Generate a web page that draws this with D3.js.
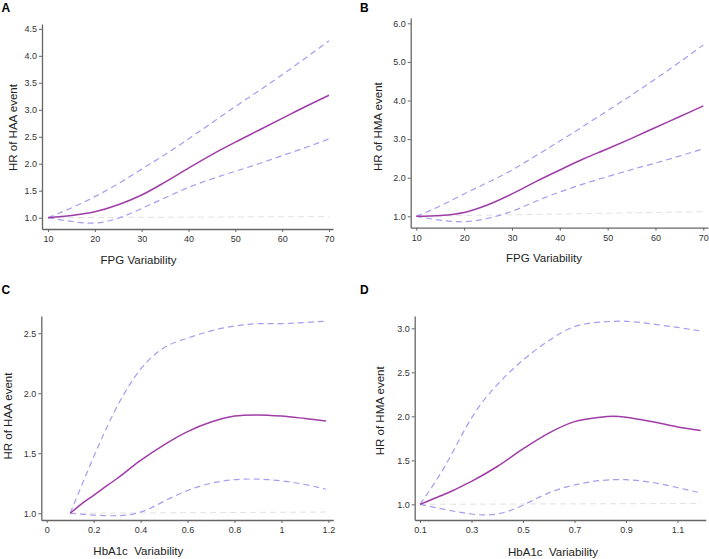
<!DOCTYPE html>
<html><head><meta charset="utf-8">
<script src="https://cdn.jsdelivr.net/npm/d3@7"></script>
<style>body{margin:0;background:#fff}svg{display:block}</style>
</head><body>
<script>
// ---------- DATA ----------
// Panel A: FPG variability vs HR of HAA event
const xA = [10,15,20,25,30,35,40,45,50,55,60,65,70];
const mainA  = [1.00,1.04,1.11,1.24,1.42,1.66,1.92,2.17,2.40,2.62,2.84,3.06,3.27];
const upperA = [1.00,1.18,1.39,1.63,1.90,2.17,2.46,2.76,3.06,3.35,3.65,3.96,4.28];
const lowerA = [1.00,0.93,0.90,0.99,1.17,1.37,1.56,1.72,1.86,2.00,2.15,2.30,2.46];
const refXA = [10,70], refYA = [1.00,1.02];
const yTicksA = [1.0,1.5,2.0,2.5,3.0,3.5,4.0,4.5];
const xTicksA = [10,20,30,40,50,60,70];

// Panel B: FPG variability vs HR of HMA event
const xB = [10,15,20,25,30,35,40,45,50,55,60,65,70];
const mainB  = [1.00,1.02,1.10,1.30,1.58,1.90,2.20,2.49,2.75,3.02,3.30,3.58,3.86];
const upperB = [1.00,1.27,1.58,1.88,2.20,2.57,2.95,3.34,3.74,4.14,4.56,4.99,5.44];
const lowerB = [1.00,0.90,0.86,0.95,1.13,1.39,1.63,1.84,2.03,2.21,2.38,2.56,2.75];
const refXB = [10,70], refYB = [1.00,1.12];
const yTicksB = [1.0,2.0,3.0,4.0,5.0,6.0];
const xTicksB = [10,20,30,40,50,60,70];

// Panel C: HbA1c variability vs HR of HAA event
const xMainC = [0.1,0.15,0.2,0.235,0.3,0.4,0.5,0.6,0.7,0.8,0.9,1.0,1.1,1.19];
const mainC  = [1.00,1.08,1.15,1.20,1.29,1.44,1.57,1.68,1.76,1.81,1.82,1.81,1.79,1.77];
const xBandC = [0.1,0.2,0.3,0.4,0.5,0.6,0.7,0.8,0.9,1.0,1.1,1.19];
const upperC = [1.00,1.47,1.89,2.20,2.38,2.46,2.52,2.56,2.58,2.58,2.59,2.60];
const lowerC = [1.00,0.985,0.98,1.01,1.10,1.19,1.25,1.28,1.285,1.27,1.24,1.20];
const refXC = [0.1,1.19], refYC = [1.00,1.01];
const yTicksC = [1.0,1.5,2.0,2.5];
const xTicksC = [0,0.2,0.4,0.6,0.8,1,1.2];

// Panel D: HbA1c variability vs HR of HMA event
const xMainD = [0.1,0.15,0.2,0.23,0.3,0.4,0.5,0.6,0.7,0.8,0.85,0.9,1.0,1.1,1.19];
const mainD  = [1.00,1.06,1.12,1.16,1.26,1.43,1.63,1.81,1.94,1.99,2.00,1.99,1.94,1.88,1.84];
const xBandD = [0.1,0.2,0.3,0.4,0.5,0.6,0.7,0.8,0.9,1.0,1.1,1.19];
const upperD = [1.00,1.45,1.98,2.36,2.64,2.86,3.02,3.07,3.08,3.05,3.01,2.97];
const lowerD = [1.00,0.94,0.89,0.89,0.99,1.13,1.22,1.27,1.28,1.25,1.19,1.13];
const refXD = [0.1,1.19], refYD = [1.00,1.01];
const yTicksD = [1.0,1.5,2.0,2.5,3.0];
const xTicksD = [0.1,0.3,0.5,0.7,0.9,1.1];

// ---------- DRAW ----------
const W = 709, H = 559;
const svg = d3.select("body").append("svg").attr("width", W).attr("height", H);
const FONT = "Arial, 'Liberation Sans', sans-serif";

const panels = [
  {letter:"A", lx:1.5, ly:12, xd:[8.72,70.85], xr:[42,333], yd:[0.79,4.59], yr:[229,24],
   xm:xA, main:mainA, xb:xA, up:upperA, lo:lowerA, rx:refXA, ry:refYA,
   yt:yTicksA, xt:xTicksA, yfmt:d3.format(".1f"), xfmt:d3.format("d"),
   ytitle:"HR of HAA event", ytx:13, yty:127.5, xtitle:"FPG Variability", xtx:138.5, xty:264},
  {letter:"B", lx:360, ly:12, xd:[8.83,70.98], xr:[410.7,708], yd:[0.705,6.137], yr:[227.7,18],
   xm:xB, main:mainB, xb:xB, up:upperB, lo:lowerB, rx:refXB, ry:refYB,
   yt:yTicksB, xt:xTicksB, yfmt:d3.format(".1f"), xfmt:d3.format("d"),
   ytitle:"HR of HMA event", ytx:378, yty:126.7, xtitle:"FPG Variability", xtx:544, xty:262},
  {letter:"C", lx:1.5, ly:293.5, xd:[-0.023,1.221], xr:[41.3,333.3], yd:[0.944,2.644], yr:[520,316],
   xm:xMainC, main:mainC, xb:xBandC, up:upperC, lo:lowerC, rx:refXC, ry:refYC,
   yt:yTicksC, xt:xTicksC, yfmt:d3.format(".1f"), xfmt:d => String(d),
   ytitle:"HR of HAA event", ytx:7.5, yty:416, xtitle:"HbA1c\u00a0\u00a0Variability", xtx:138.3, xty:555},
  {letter:"D", lx:360, ly:293.5, xd:[0.0794,1.2095], xr:[414.7,705.7], yd:[0.822,3.14], yr:[520,316],
   xm:xMainD, main:mainD, xb:xBandD, up:upperD, lo:lowerD, rx:refXD, ry:refYD,
   yt:yTicksD, xt:xTicksD, yfmt:d3.format(".1f"), xfmt:d => String(d),
   ytitle:"HR of HMA event", ytx:379.5, yty:410.8, xtitle:"HbA1c\u00a0\u00a0Variability", xtx:553, xty:556}
];

panels.forEach(p => {
  const x = d3.scaleLinear().domain(p.xd).range(p.xr);
  const y = d3.scaleLinear().domain(p.yd).range(p.yr);
  const g = svg.append("g");
  const line = (xs, curve) => d3.line().x((d,i) => x(xs[i])).y(d => y(d)).curve(curve);

  // reference line
  g.append("path").datum(p.ry).attr("d", line(p.rx, d3.curveLinear))
    .attr("fill","none").attr("stroke","#e2e2e6").attr("stroke-width",1).attr("stroke-dasharray","6,4");
  // CI bands
  [p.up, p.lo].forEach(arr => {
    g.append("path").datum(arr).attr("d", line(p.xb, d3.curveNatural))
      .attr("fill","none").attr("stroke","#a79cf0").attr("stroke-width",1.2).attr("stroke-dasharray","6,4");
  });
  // main
  g.append("path").datum(p.main).attr("d", line(p.xm, d3.curveCatmullRom.alpha(0.5)))
    .attr("fill","none").attr("stroke","#a03ca8").attr("stroke-width",1.5);

  // axes
  const yAxis = d3.axisLeft(y).tickValues(p.yt).tickFormat(p.yfmt).tickSize(3).tickSizeOuter(0).tickPadding(2);
  const xAxis = d3.axisBottom(x).tickValues(p.xt).tickFormat(p.xfmt).tickSize(3).tickSizeOuter(0).tickPadding(4);
  const ga = g.append("g").attr("transform", `translate(${p.xr[0]},0)`).call(yAxis);
  const gb = g.append("g").attr("transform", `translate(0,${p.yr[0]})`).call(xAxis);
  [ga, gb].forEach(a => {
    a.selectAll(".domain").attr("stroke","#666").attr("stroke-width",1.3);
    a.selectAll(".tick line").attr("stroke","#666");
    a.selectAll("text").attr("fill","#333").style("font-family", FONT).style("font-size","9px");
  });

  // titles
  g.append("text").attr("transform", `translate(${p.ytx},${p.yty}) rotate(-90)`)
    .attr("text-anchor","middle").attr("dy","0.35em").attr("fill","#222")
    .style("font-family", FONT).style("font-size","11.5px").text(p.ytitle);
  g.append("text").attr("x", p.xtx).attr("y", p.xty).attr("text-anchor","middle").attr("fill","#222")
    .style("font-family", FONT).style("font-size","11.5px").text(p.xtitle);
  g.append("text").attr("x", p.lx).attr("y", p.ly).attr("fill","#000")
    .style("font-family", FONT).style("font-size","12px").style("font-weight","bold").text(p.letter);
});
</script>
</body></html>
